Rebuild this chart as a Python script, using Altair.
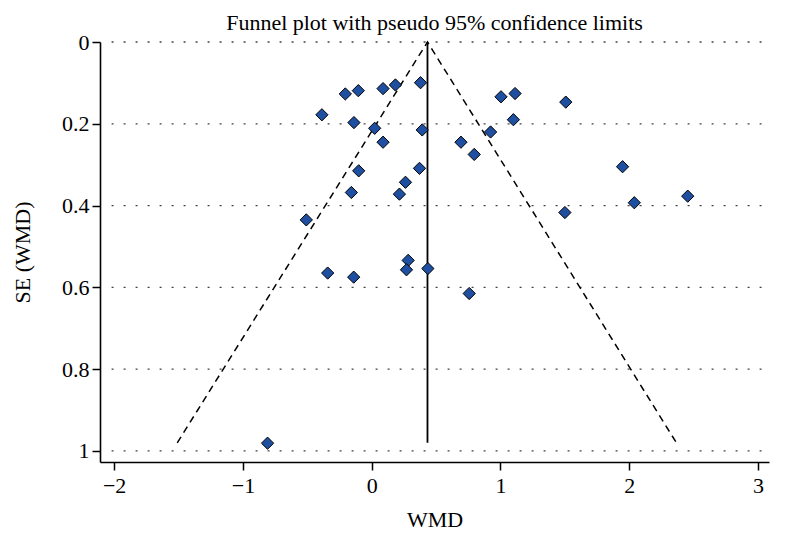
import altair as alt
import pandas as pd

# Study estimates (WMD) and standard errors
wmd = [-0.205, -0.104, 0.088, 0.184, 0.379, -0.387, -0.138, 0.023, 0.392, 0.088,
       0.693, 0.796, -0.101, 0.371, 0.262, -0.158, 0.215,
       1.004, 1.113, 1.507, 1.100, 0.923, 1.948, 2.039, 1.500, 2.454,
       -0.508, -0.342, -0.140, 0.283, 0.270, 0.436, 0.757,
       -0.809]
se = [0.127, 0.119, 0.114, 0.105, 0.0995, 0.178, 0.197, 0.211, 0.215, 0.245,
      0.245, 0.275, 0.315, 0.309, 0.343, 0.368, 0.372,
      0.134, 0.126, 0.147, 0.190, 0.220, 0.305, 0.393, 0.417, 0.377,
      0.435, 0.565, 0.575, 0.534, 0.557, 0.554, 0.615,
      0.981]

pooled = 0.433
se_max = 0.98
funnel_x = [-1.51, 0.433, 2.366]
funnel_se = [0.98, 0.0, 0.98]

y_ticks = [0, 0.2, 0.4, 0.6, 0.8, 1.0]
x_ticks = [-2, -1, 0, 1, 2, 3]

FONT = "Liberation Serif"

pts = pd.DataFrame({"wmd": wmd, "se": se})
funnel = pd.DataFrame({"wmd": funnel_x, "se": funnel_se})
grid = pd.DataFrame({"se": y_ticks, "x1": [-2.02] * len(y_ticks), "x2": [3.07] * len(y_ticks)})
vline = pd.DataFrame({"wmd": [pooled], "se0": [0.0], "se1": [se_max]})

xscale = alt.Scale(domain=[-2.11, 3.085], nice=False, zero=False)
yscale = alt.Scale(domain=[0, 1.027], nice=False, zero=False, reverse=True)

xaxis = alt.Axis(values=x_ticks, title="WMD", format="~g", grid=False, labelPadding=5, titlePadding=13)
yaxis = alt.Axis(values=y_ticks, title="SE (WMD)", format="~g", grid=False,
                 labelPadding=3, titlePadding=27)

gridlines = alt.Chart(grid).mark_rule(color="#444444", strokeWidth=1.3, strokeDash=[2, 10]).encode(
    x=alt.X("x1:Q", scale=xscale, axis=xaxis),
    x2="x2:Q",
    y=alt.Y("se:Q", scale=yscale, axis=yaxis),
)

funnel_lines = alt.Chart(funnel).mark_line(color="black", strokeWidth=1.5, strokeDash=[7, 5]).encode(
    x=alt.X("wmd:Q", scale=xscale),
    y=alt.Y("se:Q", scale=yscale),
)

pooled_line = alt.Chart(vline).mark_rule(color="black", strokeWidth=1.8).encode(
    x=alt.X("wmd:Q", scale=xscale),
    y=alt.Y("se0:Q", scale=yscale),
    y2="se1:Q",
)

points = alt.Chart(pts).mark_point(shape="diamond", filled=True, size=150,
                                   fill="#1f4fa0", stroke="black", strokeWidth=1, opacity=1).encode(
    x=alt.X("wmd:Q", scale=xscale),
    y=alt.Y("se:Q", scale=yscale),
)

chart = alt.layer(gridlines, funnel_lines, pooled_line, points).properties(
    width=669,
    height=420,
    padding={"left": 3, "top": 4, "right": 5, "bottom": 5},
    title=alt.TitleParams("Funnel plot with pseudo 95% confidence limits", font=FONT,
                          fontSize=22, fontWeight="normal", color="black", offset=-4),
).configure_view(stroke=None).configure_axis(
    domainColor="black", domainWidth=1.6, tickColor="black", tickWidth=1.5, tickSize=8,
    labelFont=FONT, labelFontSize=22, labelColor="black",
    titleFont=FONT, titleFontSize=22, titleFontWeight="normal", titleColor="black",
)

chart.save("out.html", embed_options={"renderer": "svg", "actions": False})
